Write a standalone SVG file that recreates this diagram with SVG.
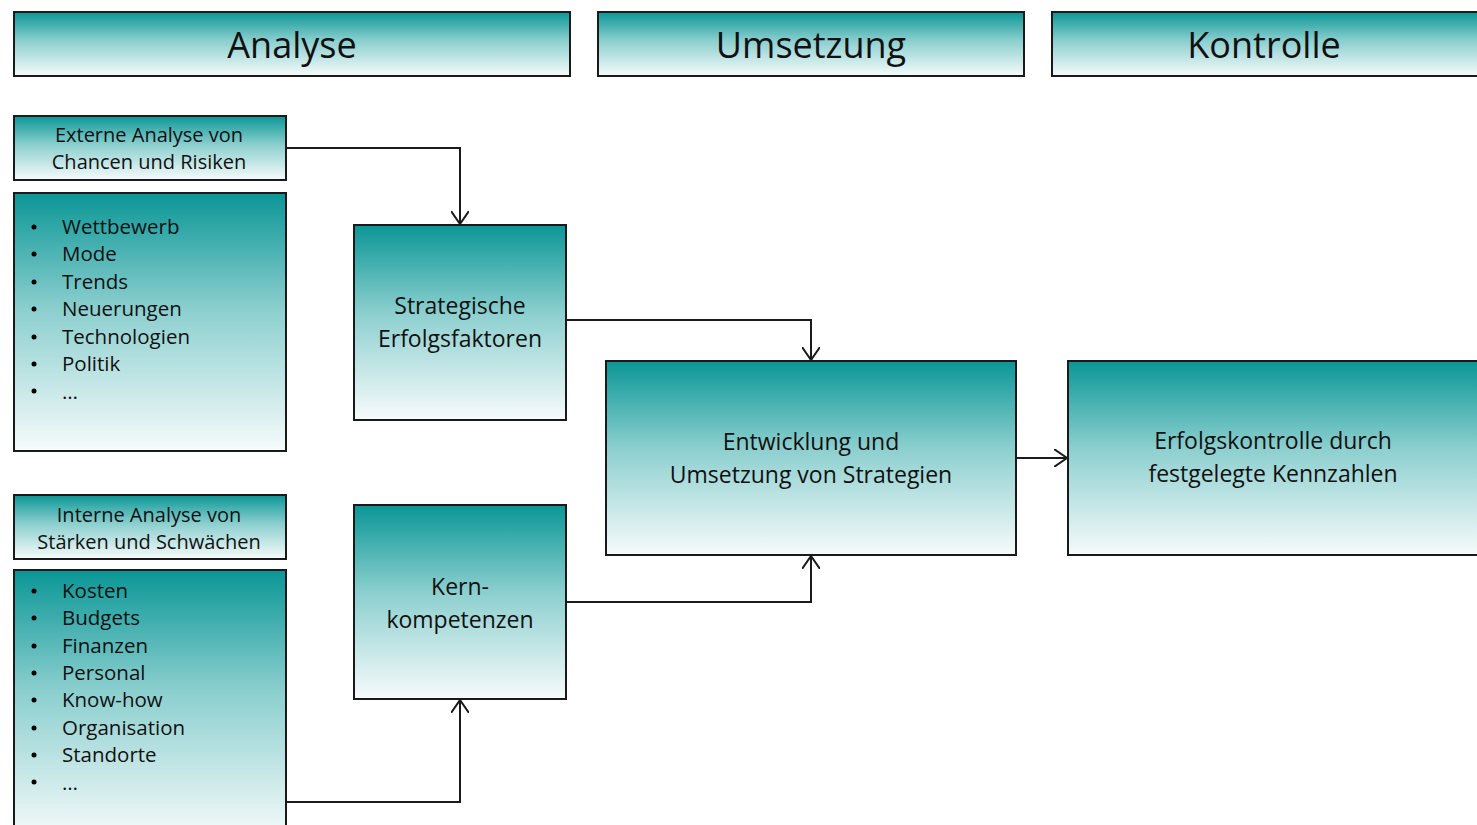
<svg xmlns="http://www.w3.org/2000/svg" width="1477" height="825" viewBox="0 0 1477 825">
<defs>
<linearGradient id="g" x1="0" y1="0" x2="0" y2="1">
<stop offset="0" stop-color="#0b9696"/>
<stop offset="0.45" stop-color="#8ccfcf"/>
<stop offset="1" stop-color="#f7fbfb"/>
</linearGradient>
<marker id="arr" viewBox="0 0 14 18" refX="13" refY="9" markerWidth="14" markerHeight="18" markerUnits="userSpaceOnUse" orient="auto">
<path d="M0,0 L13,9 L0,18" fill="none" stroke="#1a1a1a" stroke-width="2"/>
</marker>
<style>
.box{fill:url(#g);stroke:#1a1a1a;stroke-width:2}
text{font-family:"Open Sans","Liberation Sans",sans-serif;fill:#111}
.h{font-size:36px;text-anchor:middle}
.m{font-size:23px;text-anchor:middle}
.s{font-size:20px;text-anchor:middle}
.l{font-size:20.5px}
.c{fill:none;stroke:#1a1a1a;stroke-width:2}
</style>
</defs>
<rect width="1477" height="825" fill="#fff"/>
<g id="hdr-analyse"><rect class="box" x="14" y="12" width="556" height="64"/><text class="h" x="292" y="58">Analyse</text></g>
<g id="hdr-umsetzung"><rect class="box" x="598" y="12" width="426" height="64"/><text class="h" x="811" y="58">Umsetzung</text></g>
<g id="hdr-kontrolle"><rect class="box" x="1052" y="12" width="430" height="64"/><text class="h" x="1264" y="58">Kontrolle</text></g>

<g id="externe"><rect class="box" x="14" y="116" width="272" height="64"/><text class="s" x="149" y="142">Externe Analyse von</text><text class="s" x="149" y="169">Chancen und Risiken</text></g>
<g id="externe-list"><rect class="box" x="14" y="193" width="272" height="258"/>
<g class="l">
<circle cx="34" cy="227" r="2.5"/><text x="62" y="234">Wettbewerb</text>
<circle cx="34" cy="254" r="2.5"/><text x="62" y="261">Mode</text>
<circle cx="34" cy="282" r="2.5"/><text x="62" y="289">Trends</text>
<circle cx="34" cy="309" r="2.5"/><text x="62" y="316">Neuerungen</text>
<circle cx="34" cy="337" r="2.5"/><text x="62" y="344">Technologien</text>
<circle cx="34" cy="364" r="2.5"/><text x="62" y="371">Politik</text>
<circle cx="34" cy="391" r="2.5"/><text x="62" y="399">…</text>
</g></g>

<g id="interne"><rect class="box" x="14" y="495" width="272" height="64"/><text class="s" x="149" y="522">Interne Analyse von</text><text class="s" x="149" y="549">Stärken und Schwächen</text></g>
<g id="interne-list"><rect class="box" x="14" y="570" width="272" height="270"/>
<g class="l">
<circle cx="34" cy="591" r="2.5"/><text x="62" y="598">Kosten</text>
<circle cx="34" cy="618" r="2.5"/><text x="62" y="625">Budgets</text>
<circle cx="34" cy="646" r="2.5"/><text x="62" y="653">Finanzen</text>
<circle cx="34" cy="673" r="2.5"/><text x="62" y="680">Personal</text>
<circle cx="34" cy="700" r="2.5"/><text x="62" y="707">Know-how</text>
<circle cx="34" cy="728" r="2.5"/><text x="62" y="735">Organisation</text>
<circle cx="34" cy="755" r="2.5"/><text x="62" y="762">Standorte</text>
<circle cx="34" cy="782" r="2.5"/><text x="62" y="790">…</text>
</g></g>

<g id="sef"><rect class="box" x="354" y="225" width="212" height="195"/><text class="m" x="460" y="314">Strategische</text><text class="m" x="460" y="347">Erfolgsfaktoren</text></g>
<g id="kern"><rect class="box" x="354" y="505" width="212" height="194"/><text class="m" x="460" y="595">Kern-</text><text class="m" x="460" y="628">kompetenzen</text></g>
<g id="entwicklung"><rect class="box" x="606" y="361" width="410" height="194"/><text class="m" x="811" y="450">Entwicklung und</text><text class="m" x="811" y="483">Umsetzung von Strategien</text></g>
<g id="erfolgskontrolle"><rect class="box" x="1068" y="361" width="414" height="194"/><text class="m" x="1273" y="449">Erfolgskontrolle durch</text><text class="m" x="1273" y="482">festgelegte Kennzahlen</text></g>

<g id="connectors">
<path class="c" d="M286,148 H460 V224" marker-end="url(#arr)"/>
<path class="c" d="M566,320 H811 V360" marker-end="url(#arr)"/>
<path class="c" d="M286,802 H460 V700" marker-end="url(#arr)"/>
<path class="c" d="M566,602 H811 V556" marker-end="url(#arr)"/>
<path class="c" d="M1016,458 H1067" marker-end="url(#arr)"/>
</g>
</svg>
